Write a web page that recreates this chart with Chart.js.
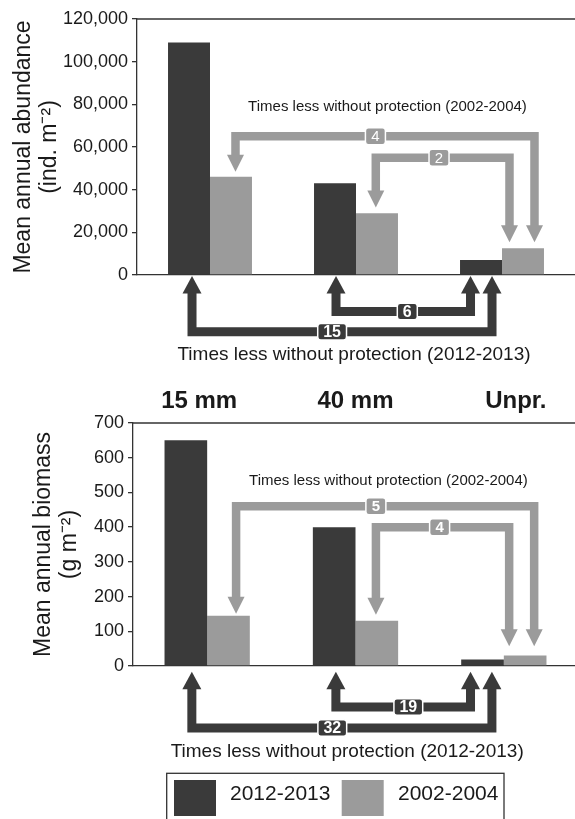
<!DOCTYPE html>
<html><head><meta charset="utf-8">
<script src="https://cdn.jsdelivr.net/npm/chart.js@4.4.1/dist/chart.umd.min.js"></script>
<style>
html,body{margin:0;padding:0;background:#fff;overflow:hidden;width:575px;height:819px;position:relative}
canvas{display:block;position:absolute;left:0}
#c1{top:0}
#c2{top:380px}
</style></head><body>
<canvas id="c1" width="575" height="380" style="width:575px;height:380px"></canvas>
<canvas id="c2" width="580" height="439" style="width:580px;height:439px"></canvas>
<script>
// ---------- data ----------
const categories = ['15 mm', '40 mm', 'Unpr.'];
const periods = ['2012-2013', '2002-2004'];
const abundance2012 = [109000, 43000, 7000];
const abundance2002 = [46000, 29000, 12500];
const biomass2012 = [650, 400, 19];
const biomass2002 = [145, 130, 30];
const abundanceTickValues = [0, 20000, 40000, 60000, 80000, 100000, 120000];
const biomassTickValues = [0, 100, 200, 300, 400, 500, 600, 700];
// "times less without protection" ratios: [15 mm vs Unpr., 40 mm vs Unpr.]
const abundanceRatio2012 = [15, 6];
const abundanceRatio2002 = [4, 2];
const biomassRatio2012 = [32, 19];
const biomassRatio2002 = [5, 4];
const noteText2002 = 'Times less without protection (2002-2004)';
const noteText2012 = 'Times less without protection (2012-2013)';

// ---------- style ----------
const FONT = '"Liberation Sans", Arial, Helvetica, sans-serif';
const DARK = '#3a3a3a';
const GRAY = '#9b9b9b';
const INK = '#1a1a1a';
const AXIS = '#333333';
Chart.defaults.font.family = FONT;
Chart.defaults.color = INK;

function elbow(ctx, xL, tipL, xR, tipR, yl, color, shaft, hw, hl) {
  const sL = Math.sign(yl - tipL), sR = Math.sign(yl - tipR);
  const bL = tipL + sL * hl, bR = tipR + sR * hl;
  ctx.save();
  ctx.strokeStyle = color; ctx.fillStyle = color;
  ctx.lineWidth = shaft; ctx.lineJoin = 'miter'; ctx.lineCap = 'butt';
  ctx.beginPath();
  ctx.moveTo(xL, bL - sL * 1); ctx.lineTo(xL, yl); ctx.lineTo(xR, yl); ctx.lineTo(xR, bR - sR * 1);
  ctx.stroke();
  [[xL, tipL, bL], [xR, tipR, bR]].forEach(([x, t, b]) => {
    ctx.beginPath(); ctx.moveTo(x - hw / 2, b); ctx.lineTo(x + hw / 2, b); ctx.lineTo(x, t); ctx.closePath(); ctx.fill();
  });
  ctx.restore();
}
function rrect(ctx, x, y, w, h, r) {
  ctx.beginPath();
  ctx.moveTo(x + r, y); ctx.lineTo(x + w - r, y); ctx.quadraticCurveTo(x + w, y, x + w, y + r);
  ctx.lineTo(x + w, y + h - r); ctx.quadraticCurveTo(x + w, y + h, x + w - r, y + h);
  ctx.lineTo(x + r, y + h); ctx.quadraticCurveTo(x, y + h, x, y + h - r);
  ctx.lineTo(x, y + r); ctx.quadraticCurveTo(x, y, x + r, y); ctx.closePath();
}
function badge(ctx, x, y, text, fill, font, h) {
  ctx.save(); ctx.font = font;
  const w = Math.max(20, ctx.measureText(text).width + 11);
  rrect(ctx, x - w / 2, y - h / 2, w, h, 3);
  ctx.fillStyle = fill; ctx.fill();
  ctx.lineWidth = 1.5; ctx.strokeStyle = '#fff'; ctx.stroke();
  ctx.fillStyle = '#fff'; ctx.textAlign = 'center'; ctx.textBaseline = 'middle';
  ctx.fillText(text, x, y + 1);
  ctx.restore();
}

const decor = {
  id: 'decor',
  afterDatasetsDraw(chart, args, o) {
    const ctx = chart.ctx;
    const { left, top, bottom } = chart.chartArea;
    const ys = chart.scales.y, xs = chart.scales.x;
    const dk = chart.getDatasetMeta(0).data, gr = chart.getDatasetMeta(1).data;
    // top frame line
    ctx.save();
    ctx.strokeStyle = AXIS; ctx.lineWidth = 1.3;
    ctx.beginPath(); ctx.moveTo(left, top); ctx.lineTo(chart.width, top); ctx.stroke();
    ctx.restore();
    // gray (2002-2004) arrows, pointing down onto bars
    const g = o.gray;
    let gMid = 0, gTop = 0;
    g.arrows.forEach((a, i) => {
      const xL = gr[a.from].x + a.offFrom, xR = gr[2].x + a.offTo;
      const tipL = gr[a.from].y - a.gapFrom, tipR = gr[2].y - a.gapTo;
      const yl = ys.getPixelForValue(a.level);
      elbow(ctx, xL, tipL, xR, tipR, yl, GRAY, 8.5, 17, 17);
      badge(ctx, xL + a.t * (xR - xL), yl, String(g.ratios[i]), GRAY,
        (g.bold ? 'bold ' : '') + '15px ' + FONT, 17);
      if (i === 0) { gMid = (xL + xR) / 2; gTop = yl; }
    });
    ctx.save();
    ctx.fillStyle = INK; ctx.font = '15px ' + FONT; ctx.textAlign = 'center'; ctx.textBaseline = 'middle';
    ctx.fillText(noteText2002, gMid + g.textDx, gTop - g.textUp);
    ctx.restore();
    // dark (2012-2013) arrows, pointing up below axis
    const d = o.dark;
    let dMid = 0;
    d.arrows.forEach((a, i) => {
      const xL = dk[a.from].x + a.offFrom, xR = dk[2].x + a.offTo;
      const tip = bottom + d.tipGap;
      const yl = bottom + a.level;
      elbow(ctx, xL, tip, xR, tip, yl, DARK, 9, 19, 17.5);
      badge(ctx, xL + a.t * (xR - xL), yl, String(d.ratios[i]), DARK, 'bold 16px ' + FONT, 16.5);
      if (i === 0) dMid = (xL + xR) / 2;
    });
    ctx.save();
    ctx.fillStyle = INK; ctx.font = '19px ' + FONT; ctx.textAlign = 'center'; ctx.textBaseline = 'middle';
    ctx.fillText(noteText2012, dMid + d.textDx, bottom + d.textDown);
    ctx.restore();
    // category labels
    if (o.catLabels) {
      ctx.save();
      ctx.fillStyle = INK; ctx.font = 'bold 24px ' + FONT; ctx.textAlign = 'center'; ctx.textBaseline = 'middle';
      chart.data.labels.forEach((lab, i) => {
        ctx.fillText(lab, xs.getPixelForValue(i) + o.catLabels.dx[i], top - o.catLabels.up);
      });
      ctx.restore();
    }
    // legend
    if (o.legend) {
      const L = o.legend;
      ctx.save();
      ctx.strokeStyle = AXIS; ctx.lineWidth = 1.3;
      ctx.strokeRect(L.x0, bottom + L.top, L.x1 - L.x0, chart.height);
      ctx.font = '21px ' + FONT; ctx.textBaseline = 'middle'; ctx.textAlign = 'left';
      chart.data.datasets.forEach((ds, i) => {
        ctx.fillStyle = ds.backgroundColor;
        ctx.fillRect(L.sw[i], bottom + L.swTop, 42, 36);
        ctx.fillStyle = INK;
        ctx.fillText(ds.label, L.tx[i], bottom + L.txY);
      });
      ctx.restore();
    }
  }
};

function makeChart(id, d2012, d2002, tickValues, c) {
  return new Chart(document.getElementById(id), {
    type: 'bar',
    data: {
      labels: categories,
      datasets: [
        { label: periods[0], data: d2012, backgroundColor: DARK },
        { label: periods[1], data: d2002, backgroundColor: GRAY }
      ]
    },
    options: {
      responsive: false, animation: false, devicePixelRatio: 1,
      layout: { padding: { left: 0, right: c.padRight, top: c.padTop, bottom: c.padBottom } },
      datasets: { bar: { categoryPercentage: 0.575, barPercentage: 1, borderWidth: 0 } },
      scales: {
        x: {
          ticks: { display: false },
          grid: { display: false, drawTicks: false },
          border: { display: true, color: AXIS, width: 1.3 }
        },
        y: {
          min: 0, max: tickValues[tickValues.length - 1],
          afterBuildTicks: (s) => { s.ticks = tickValues.map(v => ({ value: v })); },
          afterFit: (s) => { s.width = c.axisLeft; },
          ticks: {
            font: { size: 18 }, color: INK, padding: 4,
            callback: (v) => Number(v).toLocaleString('en-US')
          },
          grid: { drawOnChartArea: false, drawTicks: true, tickLength: 5, color: AXIS, lineWidth: 1.3 },
          border: { display: true, color: AXIS, width: 1.3 },
          title: {
            display: true, text: c.title, color: INK,
            font: { size: 23, lineHeight: 1.13 }, padding: { top: c.titlePad, bottom: 0 }
          }
        }
      },
      plugins: {
        legend: { display: false }, tooltip: { enabled: false },
        decor: c.decor
      }
    },
    plugins: [decor]
  });
}

makeChart('c1', abundance2012, abundance2002, abundanceTickValues, {
  title: ['Mean annual abundance', '(ind. m\u207B\u00B2)'], titlePad: 11,
  axisLeft: 137, padTop: 19, padBottom: 105, padRight: 0,
  decor: {
    gray: {
      ratios: abundanceRatio2002, bold: false, textDx: 2.5, textUp: 29.5,
      arrows: [
        { from: 0, offFrom: 4.5, offTo: 11.5, gapFrom: 5, gapTo: 6, level: 65000, t: 0.468 },
        { from: 1, offFrom: -1.2, offTo: -13.5, gapFrom: 5.7, gapTo: 6, level: 55000, t: 0.473 }
      ]
    },
    dark: {
      ratios: abundanceRatio2012, tipGap: 1, textDx: 12, textDown: 80,
      arrows: [
        { from: 0, offFrom: 3, offTo: 11, level: 56.7, t: 0.467 },
        { from: 1, offFrom: 1, offTo: -10.5, level: 36.5, t: 0.53 }
      ]
    },
    catLabels: null, legend: null
  }
});

makeChart('c2', biomass2012, biomass2002, biomassTickValues, {
  title: ['Mean annual biomass', '(g m\u207B\u00B2)'], titlePad: 31,
  axisLeft: 133, padTop: 43, padBottom: 153, padRight: 2,
  decor: {
    gray: {
      ratios: biomassRatio2002, bold: true, textDx: 3.3, textUp: 25.3,
      arrows: [
        { from: 0, offFrom: 7.6, offTo: 9, gapFrom: 2, gapTo: 9.3, level: 460, t: 0.469 },
        { from: 1, offFrom: -0.9, offTo: -16, gapFrom: 6, gapTo: 9.3, level: 400, t: 0.478 }
      ]
    },
    dark: {
      ratios: biomassRatio2012, tipGap: 5.7, textDx: 5.3, textDown: 85.7,
      arrows: [
        { from: 0, offFrom: 6, offTo: 9.4, level: 62, t: 0.468 },
        { from: 1, offFrom: 1.7, offTo: -12, level: 41, t: 0.538 }
      ]
    },
    catLabels: { dx: [-8, 0, 12], up: 22 },
    legend: { x0: 166.7, x1: 504, top: 107.3, swTop: 114, txY: 128.5, sw: [174, 341.7], tx: [230, 398] }
  }
});
</script>
</body></html>
